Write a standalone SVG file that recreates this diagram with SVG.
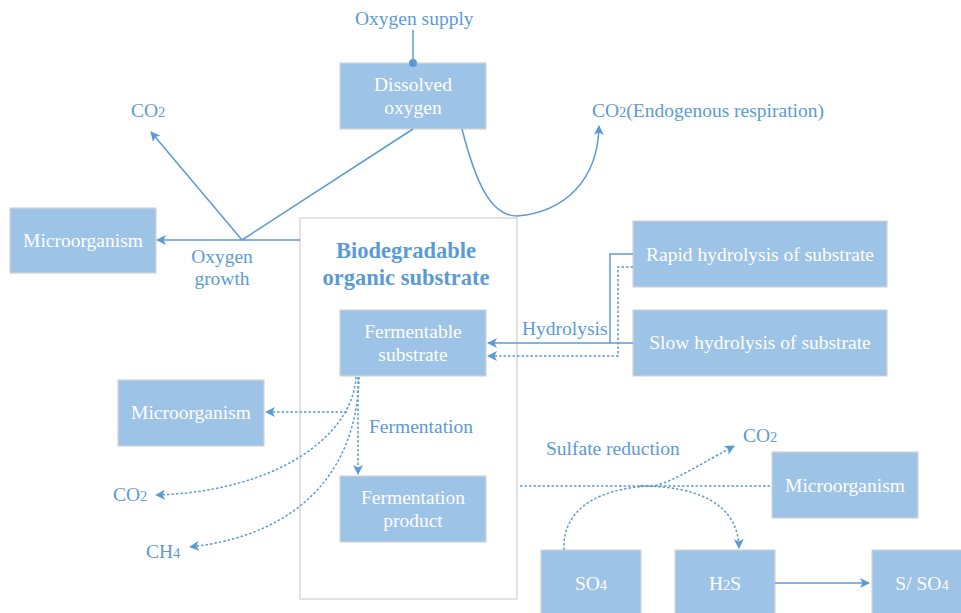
<svg xmlns="http://www.w3.org/2000/svg" width="961" height="613" viewBox="0 0 961 613">
<defs>
<marker id="ah" viewBox="0 0 10 10" refX="9" refY="5" markerWidth="10" markerHeight="10" markerUnits="userSpaceOnUse" orient="auto">
<path d="M0,0 L10,5 L0,10 L2.5,5 Z" fill="#5B9BD5"/>
</marker>
<marker id="dot" viewBox="0 0 10 10" refX="5" refY="5" markerWidth="8" markerHeight="8" markerUnits="userSpaceOnUse">
<circle cx="5" cy="5" r="5" fill="#5B9BD5"/>
</marker>
<style>
.box{fill:#9DC3E6;stroke:#D4D4D4;stroke-width:1.2}
.frame{fill:#FFFFFF;stroke:#CFCFCF;stroke-width:1.2}
.bt{font-family:"Liberation Serif","Times New Roman",serif;font-size:19.5px;fill:#FFFFFF;text-anchor:middle}
.lt{font-family:"Liberation Serif","Times New Roman",serif;font-size:19.5px;fill:#5B9BD5}
.title{font-family:"Liberation Serif","Times New Roman",serif;font-size:22.5px;font-weight:bold;fill:#5B9BD5;text-anchor:middle}
.sub{font-size:14.5px}
.ln{fill:none;stroke:#5B9BD5;stroke-width:1.5}
.dl{fill:none;stroke:#5B9BD5;stroke-width:1.5;stroke-dasharray:2.5 2}
</style>
</defs>

<g id="frame-biodegradable">
<rect class="frame" x="300" y="218" width="217" height="381"/>
<text class="title" x="406" y="258">Biodegradable</text>
<text class="title" x="406" y="285">organic substrate</text>
</g>

<g id="label-oxygen-supply"><text class="lt" x="355" y="25">Oxygen supply</text></g>
<g id="label-co2-top"><text class="lt" x="131" y="117">CO<tspan class="sub">2</tspan></text></g>
<g id="label-oxygen-growth"><text class="lt" x="222" y="263" text-anchor="middle">Oxygen</text><text class="lt" x="222" y="285" text-anchor="middle">growth</text></g>
<g id="label-co2-endogenous"><text class="lt" x="592" y="117">CO<tspan class="sub">2</tspan>(Endogenous respiration)</text></g>
<g id="label-hydrolysis"><text class="lt" x="522" y="335">Hydrolysis</text></g>
<g id="label-fermentation"><text class="lt" x="369" y="433">Fermentation</text></g>
<g id="label-co2-left"><text class="lt" x="113" y="501">CO<tspan class="sub">2</tspan></text></g>
<g id="label-ch4"><text class="lt" x="146" y="558">CH<tspan class="sub">4</tspan></text></g>
<g id="label-sulfate"><text class="lt" x="546" y="455">Sulfate reduction</text></g>
<g id="label-co2-right"><text class="lt" x="743" y="442">CO<tspan class="sub">2</tspan></text></g>

<g id="node-dissolved-oxygen">
<rect class="box" x="340" y="63" width="146" height="66"/>
<text class="bt" x="413" y="91">Dissolved</text>
<text class="bt" x="413" y="114">oxygen</text>
</g>
<g id="node-microorganism-top">
<rect class="box" x="10" y="208" width="146" height="65"/>
<text class="bt" x="83" y="247">Microorganism</text>
</g>
<g id="node-rapid-hydrolysis">
<rect class="box" x="633" y="221" width="254" height="66"/>
<text class="bt" x="760" y="261">Rapid hydrolysis of substrate</text>
</g>
<g id="node-slow-hydrolysis">
<rect class="box" x="633" y="310" width="254" height="66"/>
<text class="bt" x="760" y="349">Slow hydrolysis of substrate</text>
</g>
<g id="node-fermentable-substrate">
<rect class="box" x="340" y="310" width="146" height="66"/>
<text class="bt" x="413" y="338">Fermentable</text>
<text class="bt" x="413" y="361">substrate</text>
</g>
<g id="node-microorganism-left">
<rect class="box" x="118" y="380" width="146" height="66"/>
<text class="bt" x="191" y="419">Microorganism</text>
</g>
<g id="node-fermentation-product">
<rect class="box" x="340" y="476" width="146" height="66"/>
<text class="bt" x="413" y="504">Fermentation</text>
<text class="bt" x="413" y="527">product</text>
</g>
<g id="node-microorganism-right">
<rect class="box" x="772" y="452" width="146" height="66"/>
<text class="bt" x="845" y="492">Microorganism</text>
</g>
<g id="node-so4">
<rect class="box" x="541" y="550" width="100" height="70"/>
<text class="bt" x="591" y="590">SO<tspan class="sub">4</tspan></text>
</g>
<g id="node-h2s">
<rect class="box" x="675" y="550" width="100" height="70"/>
<text class="bt" x="725" y="590">H<tspan class="sub">2</tspan>S</text>
</g>
<g id="node-s-so4">
<rect class="box" x="872" y="550" width="100" height="70"/>
<text class="bt" x="922" y="590">S/ SO<tspan class="sub">4</tspan></text>
</g>

<g id="connectors">
<path class="ln" d="M413,30 L413,63" marker-end="url(#dot)"/>
<path class="ln" d="M413,129 L242,240"/>
<path class="ln" d="M242,240 L151,132" marker-end="url(#ah)"/>
<path class="ln" d="M300,240 L157,240" marker-end="url(#ah)"/>
<path class="ln" d="M462,129 C475,180 490,216 517,216 C565,212 598,180 599,126" marker-end="url(#ah)"/>
<path class="ln" d="M633,254 L610,254 L610,343"/>
<path class="ln" d="M633,343 L488,343" marker-end="url(#ah)"/>
<path class="dl" d="M633,267 L618,267 L618,356 L488,356" marker-end="url(#ah)"/>
<path class="dl" d="M358,377 L358,474" marker-end="url(#ah)"/>
<path class="dl" d="M347,412 L266,412" marker-end="url(#ah)"/>
<path class="dl" d="M356,377 C352,440 270,492 156,495" marker-end="url(#ah)"/>
<path class="dl" d="M359,377 C357,470 300,535 190,547" marker-end="url(#ah)"/>
<path class="dl" d="M520,486 L771,486"/>
<path class="dl" d="M564,550 C562,505 605,488 650,486 C665,486 690,470 734,446" marker-end="url(#ah)"/>
<path class="dl" d="M640,486 C700,486 738,505 739,548" marker-end="url(#ah)"/>
<path class="ln" d="M775,583 L869,583" marker-end="url(#ah)"/>
</g>
</svg>
